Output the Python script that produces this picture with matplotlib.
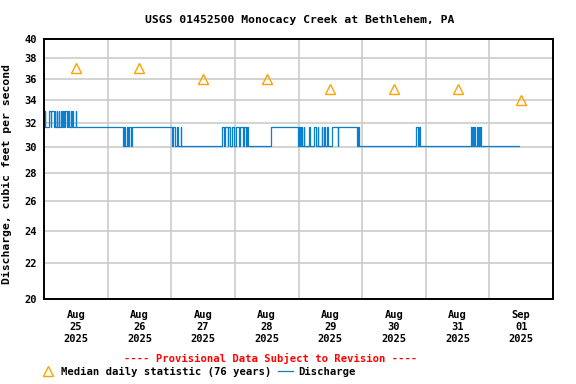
import numpy as np
import pandas as pd
import matplotlib
matplotlib.use("Agg")
import matplotlib.pyplot as plt
import matplotlib.dates as mdates
from matplotlib.lines import Line2D
from matplotlib.ticker import FixedLocator, NullLocator, FuncFormatter

FONT = "DejaVu Sans Mono"
START = pd.Timestamp("2025-08-25 00:00")

# discharge: hours since Aug 25 00:00 where the value changes, cfs
change_hours = [
    0.0, 0.25, 0.5, 2.0, 2.5, 2.75, 3.75, 4.0, 4.25, 4.75, 5.0, 5.5, 5.75,
    6.25, 6.75, 7.25, 7.5, 8.0, 8.5, 9.0, 9.25, 10.0, 10.25, 10.75, 11.0, 12.0, 12.25,
    29.75, 30.25, 30.5, 31.25, 31.5, 32.0, 32.75, 33.25,
    48.25, 48.75, 49.5, 50.25, 50.5, 51.5, 51.75,
    67.25, 67.75, 68.25, 69.25, 69.5, 70.0, 70.75, 71.75, 72.25, 73.5, 74.0,
    75.0, 75.5, 76.25, 76.5, 77.0,
    85.5,
    95.75, 96.25, 96.5, 97.0, 97.25, 98.0, 98.25, 100.0, 100.25, 102.0, 102.5,
    103.25, 103.5, 104.75, 105.0, 105.75, 106.0, 106.75, 107.0, 108.5,
    110.75, 111.0, 118.25, 118.5, 119.0,
    140.5, 141.0, 141.5, 142.0,
    161.0, 161.5, 161.75, 162.0, 162.25, 162.5, 163.5, 163.75, 164.0, 164.25,
    164.5, 164.75,
    179.0,
]
change_values = [
    31.6, 33.0, 31.6, 33.0, 31.6, 33.0, 31.6, 33.0, 31.6, 33.0, 31.6, 33.0, 31.6,
    33.0, 31.6, 33.0, 31.6, 33.0, 31.6, 33.0, 31.6, 33.0, 31.6, 33.0, 31.6, 33.0, 31.6,
    30.1, 31.6, 30.1, 31.6, 30.1, 31.6, 30.1, 31.6,
    30.1, 31.6, 30.1, 31.6, 30.1, 31.6, 30.1,
    31.6, 30.1, 31.6, 30.1, 31.6, 30.1, 31.6, 30.1, 31.6, 30.1, 31.6,
    30.1, 31.6, 30.1, 31.6, 30.1,
    31.6,
    30.1, 31.6, 30.1, 31.6, 30.1, 31.6, 30.1, 31.6, 30.1, 31.6, 30.1,
    31.6, 30.1, 31.6, 30.1, 31.6, 30.1, 31.6, 30.1, 31.6,
    30.1, 31.6, 30.1, 31.6, 30.1,
    31.6, 30.1, 31.6, 30.1,
    31.6, 30.1, 31.6, 30.1, 31.6, 30.1, 31.6, 30.1, 31.6, 30.1,
    31.6, 30.1,
    30.1,
]

# median daily statistic, plotted at noon of each day
median_days = ["2025-08-25", "2025-08-26", "2025-08-27", "2025-08-28",
               "2025-08-29", "2025-08-30", "2025-08-31", "2025-09-01"]
median_values = [37, 37, 36, 36, 35, 35, 35, 34]

y_ticks = [20, 22, 24, 26, 28, 30, 32, 34, 36, 38, 40]

times = START + pd.to_timedelta(change_hours, unit="h")
median_times = pd.to_datetime(median_days) + pd.Timedelta(hours=12)

fig = plt.figure(figsize=(5.76, 3.84), dpi=100)
ax = fig.add_axes([44 / 576, 1 - 299 / 384, 509 / 576, 260 / 384])

ax.plot(times, change_values, drawstyle="steps-post", color="#0a7fd0", lw=0.9)
ax.plot(median_times, median_values, ls="none", marker="^", ms=7.5,
        mfc="none", mec="#ffa200", mew=1.0)

ax.set_yscale("log")
ax.set_ylim(20, 40)
ax.yaxis.set_major_locator(FixedLocator(y_ticks))
ax.yaxis.set_minor_locator(NullLocator())
ax.yaxis.set_major_formatter(FuncFormatter(lambda v, p: f"{v:.0f}"))

ax.set_xlim(START, START + pd.Timedelta(days=8))
ax.xaxis.set_major_locator(mdates.HourLocator(byhour=[12]))
ax.xaxis.set_major_formatter(mdates.DateFormatter("%b\n%d\n%Y"))
ax.xaxis.set_minor_locator(mdates.DayLocator())

ax.grid(True, axis="y", which="major", color="#c8c8c8", lw=1.1)
ax.grid(True, axis="x", which="minor", color="#c8c8c8", lw=1.1)
ax.grid(False, axis="x", which="major")
ax.set_axisbelow(True)

for s in ax.spines.values():
    s.set_linewidth(1.4)
    s.set_color("black")

ax.tick_params(axis="both", which="both", length=0)
ax.tick_params(axis="y", pad=5)
ax.tick_params(axis="x", pad=8)
for lab in ax.get_xticklabels() + ax.get_yticklabels():
    lab.set_fontfamily(FONT)
    lab.set_fontweight("bold")
    lab.set_fontsize(7.5)
for lab in ax.get_xticklabels():
    lab.set_linespacing(1.25)

ax.set_ylabel("Discharge, cubic feet per second", fontfamily=FONT,
              fontweight="bold", fontsize=8.2)
ax.yaxis.set_label_coords(-0.063, 0.48)

fig.text(300 / 576, 1 - 20 / 384, "USGS 01452500 Monocacy Creek at Bethlehem, PA",
         ha="center", va="center", fontfamily=FONT, fontweight="bold", fontsize=8.2)
fig.text(271 / 576, 1 - 358 / 384, "---- Provisional Data Subject to Revision ----",
         ha="center", va="center", color="red", fontfamily=FONT,
         fontweight="bold", fontsize=7.6)

handles = [
    Line2D([], [], ls="none", marker="^", ms=7.5, mfc="none", mec="#ffa200", mew=1.0),
    Line2D([], [], color="#0a7fd0", lw=0.9),
]
fig.legend(handles, ["Median daily statistic (76 years)", "Discharge"],
           loc="center left", bbox_to_anchor=(41 / 576, 1 - 372 / 384), ncol=2,
           frameon=False, borderpad=0, borderaxespad=0, handlelength=1.4,
           handletextpad=0.5, columnspacing=0.6,
           prop={"family": FONT, "weight": "bold", "size": 7.6})

fig.savefig("out.png", dpi=100)
